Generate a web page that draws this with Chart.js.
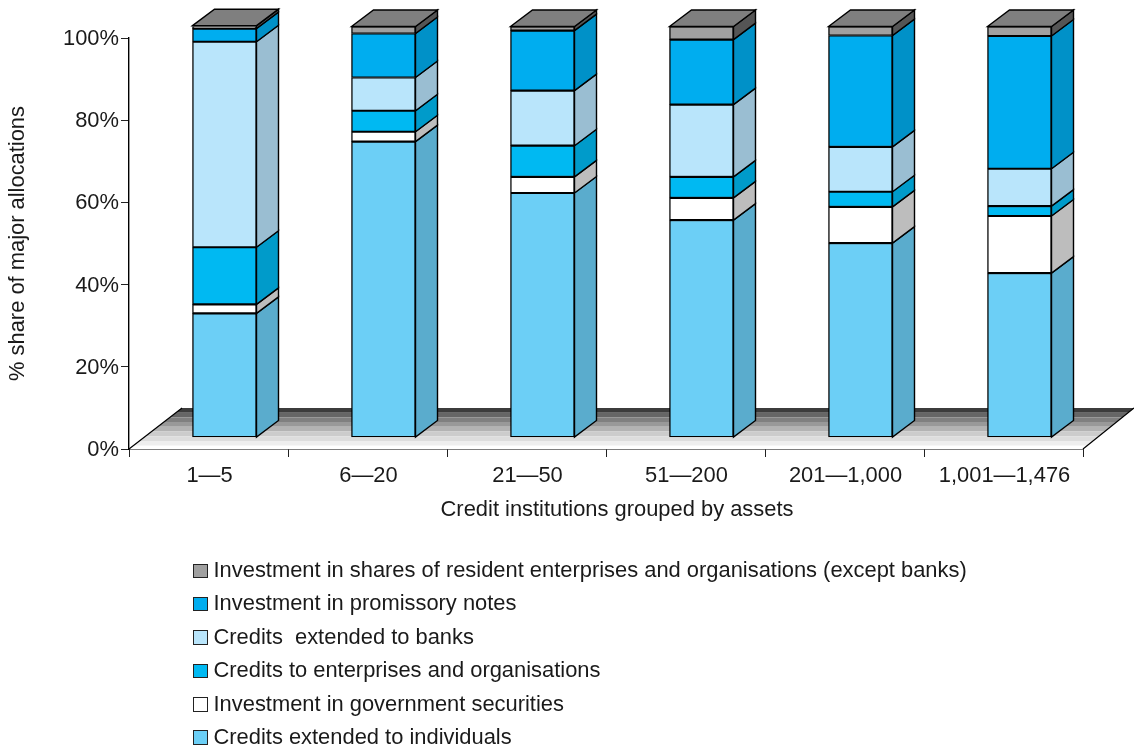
<!DOCTYPE html>
<html>
<head>
<meta charset="utf-8">
<title>Major allocations by asset group</title>
<script src="https://cdn.jsdelivr.net/npm/chart.js@4"></script>
<style>
  html, body { margin: 0; padding: 0; background: #fff; }
  #wrap { position: relative; width: 1134px; height: 747px; overflow: hidden; }
  #legend { position: absolute; left: 193px; top: 553px; font: 21.9px "Liberation Sans", Arial, sans-serif; color: #1a1a1a; }
  #legend div { height: 33.4px; line-height: 33.4px; white-space: pre; }
  #legend i { display: inline-block; width: 12.5px; height: 12.5px; border: 1.3px solid #222; margin-right: 6px; vertical-align: -1px; }
</style>
</head>
<body>
<div id="wrap">
  <canvas id="chart" width="1134" height="747"></canvas>
  <div id="legend"></div>
</div>
<script>
const categories = ['1—5', '6—20', '21—50', '51—200', '201—1,000', '1,001—1,476'];
const individuals = [30.2, 72.0, 59.5, 52.9, 47.3, 40.0];
const government = [2.2, 2.4, 3.9, 5.4, 8.8, 13.9];
const enterprises = [13.9, 5.1, 7.6, 5.1, 3.7, 2.4];
const banks = [50.0, 8.1, 13.4, 17.6, 10.9, 9.1];
const promissory = [3.2, 10.7, 14.6, 15.8, 27.1, 32.3];
const shares = [0.7, 1.7, 1.0, 3.2, 2.2, 2.3];

const floorBands = ['#3c3c3c', '#666666', '#808080', '#999999', '#b3b3b3', '#cccccc', '#dddddd', '#eeeeee'];

// front colour, side colour
const series = [
    { label: 'Credits extended to individuals', data: individuals, color: '#6ccff6', side: '#5aaccd' },
    { label: 'Investment in government securities', data: government, color: '#ffffff', side: '#bdbdbd' },
    { label: 'Credits to enterprises and organisations', data: enterprises, color: '#00b9f2', side: '#009bca' },
    { label: 'Credits  extended to banks', data: banks, color: '#b9e5fb', side: '#9abed2' },
    { label: 'Investment in promissory notes', data: promissory, color: '#00adef', side: '#0091c8' },
    { label: 'Investment in shares of resident enterprises and organisations (except banks)', data: shares, color: '#a0a0a0', side: '#555555' }
];

const FONT = '"Liberation Sans", Arial, sans-serif';
const FONT_SIZE = 21.9;
const TEXT = '#1a1a1a';
// Bars stand a bit back on the floor, and have a depth of their own
const BAR_DX = 16, BAR_DY = -11.5, DEPTH_X = 22, DEPTH_Y = -16.5;
const FLOOR_DX = 53, FLOOR_DY = -41, FLOOR_RIGHT_DX = 51;

function poly(ctx, pts, fill, stroke) {
    ctx.beginPath();
    pts.forEach((p, i) => i ? ctx.lineTo(p[0], p[1]) : ctx.moveTo(p[0], p[1]));
    ctx.closePath();
    if (fill) {
        ctx.fillStyle = fill;
        ctx.fill();
    }
    if (stroke) {
        ctx.strokeStyle = stroke;
        ctx.lineWidth = 1.4;
        ctx.stroke();
    }
}

const fake3d = {
    id: 'fake3d',
    beforeDatasetsDraw(chart) {
        const ctx = chart.ctx;
        const a = chart.chartArea;
        const leftAt = y => a.left + (a.bottom - y) * FLOOR_DX / -FLOOR_DY;
        const rightAt = y => a.right + (a.bottom - y) * FLOOR_RIGHT_DX / -FLOOR_DY;
        const backY = a.bottom + FLOOR_DY;
        const bandH = 4.7;

        // Floor, dark at the back fading to white at the front
        poly(ctx, [[a.left, a.bottom], [leftAt(backY), backY], [rightAt(backY), backY], [a.right, a.bottom]], '#ffffff');
        floorBands.forEach((color, i) => {
            const y0 = backY + i * bandH;
            const y1 = y0 + bandH;
            poly(ctx, [[leftAt(y1), y1], [leftAt(y0), y0], [rightAt(y0), y0], [rightAt(y1), y1]], color);
        });
        ctx.strokeStyle = '#000';
        ctx.lineWidth = 1.2;
        ctx.beginPath();
        ctx.moveTo(a.left, a.bottom);
        ctx.lineTo(leftAt(backY), backY);
        ctx.moveTo(a.right, a.bottom);
        ctx.lineTo(rightAt(backY), backY);
        ctx.stroke();

        ctx.save();
        ctx.translate(BAR_DX, BAR_DY);
    },
    afterDatasetsDraw(chart) {
        const ctx = chart.ctx;
        series.forEach((s, i) => {
            chart.getDatasetMeta(i).data.forEach(bar => {
                const r = bar.x + bar.width / 2;
                poly(ctx, [[r, bar.base], [r, bar.y], [r + DEPTH_X, bar.y + DEPTH_Y], [r + DEPTH_X, bar.base + DEPTH_Y]], s.side, '#000');
                if (i === series.length - 1) {
                    const l = bar.x - bar.width / 2;
                    poly(ctx, [[l, bar.y], [l + DEPTH_X, bar.y + DEPTH_Y], [r + DEPTH_X, bar.y + DEPTH_Y], [r, bar.y]], '#7f7f7f', '#000');
                }
            });
        });
        ctx.restore();
    },
    afterDraw(chart) {
        const ctx = chart.ctx;
        ctx.save();
        ctx.font = FONT_SIZE + 'px ' + FONT;
        ctx.fillStyle = TEXT;
        ctx.textAlign = 'center';
        ctx.textBaseline = 'middle';
        ctx.fillText('Credit institutions grouped by assets', 617, 510);
        ctx.restore();
    }
};

new Chart(document.getElementById('chart'), {
    type: 'bar',
    data: {
        labels: categories,
        datasets: series.map(s => ({
            label: s.label,
            data: s.data,
            backgroundColor: s.color,
            borderColor: '#000',
            borderWidth: 1.4,
            borderSkipped: false,
            barThickness: 64
        }))
    },
    plugins: [fake3d],
    options: {
        responsive: false,
        animation: false,
        layout: { padding: { left: 0, right: 51, top: 38, bottom: 222 } },
        plugins: {
            legend: { display: false },
            tooltip: { enabled: false }
        },
        scales: {
            x: {
                stacked: true,
                afterFit: scale => { scale.height = 76; },
                grid: { drawOnChartArea: false, tickLength: 8, color: '#222' },
                border: { color: '#000', width: 1.4 },
                ticks: { color: TEXT, font: { family: FONT, size: FONT_SIZE }, padding: 6, labelOffset: 1, maxRotation: 0 }
            },
            y: {
                stacked: true,
                min: 0,
                max: 100,
                afterFit: scale => { scale.width = 129; },
                grid: { drawOnChartArea: false, tickLength: 8, color: '#222' },
                border: { color: '#000', width: 1.4 },
                title: {
                    display: true,
                    text: '% share of major allocations',
                    color: TEXT,
                    font: { family: FONT, size: FONT_SIZE },
                    padding: { top: 5, bottom: 0 }
                },
                ticks: {
                    stepSize: 20,
                    color: TEXT,
                    font: { family: FONT, size: FONT_SIZE },
                    padding: 2,
                    labelOffset: 1,
                    callback: value => value + '%'
                }
            }
        }
    }
});

// Legend, top of the stack first
const legend = document.getElementById('legend');
series.slice().reverse().forEach(s => {
    const row = document.createElement('div');
    const swatch = document.createElement('i');
    swatch.style.background = s.color;
    row.appendChild(swatch);
    row.appendChild(document.createTextNode(s.label));
    legend.appendChild(row);
});
</script>
</body>
</html>
